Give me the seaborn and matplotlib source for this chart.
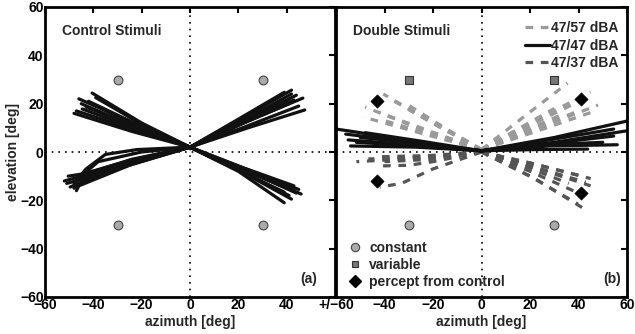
import numpy as np
import pandas as pd
import matplotlib
matplotlib.use("Agg")
import matplotlib.pyplot as plt
from matplotlib.lines import Line2D
import seaborn as sns

# ---------------- data (degrees) ----------------
ctrl_upper_left = [
    [(0, 2), (-22, 11.5), (-46, 22)],
    [(0, 2), (-20, 12), (-40.5, 24.4)],
    [(0, 2), (-24, 8.5), (-48, 16)],
    [(0, 2), (-22, 9.5), (-44.6, 17.8)],
    [(0, 2), (-21, 10), (-43, 18.6)],
    [(0, 2), (-21, 11), (-42, 21)],
    [(0, 2), (-20, 11.5), (-39, 22.5)],
    [(0, 2), (-23, 10.5), (-45, 20)],
    [(0, 2), (-21, 10.5), (-41, 20)],
    [(0, 2), (-24, 9.5), (-47, 17)],
]
ctrl_upper_right = [
    [(0, 2), (20, 13), (42, 25.6)],
    [(0, 2), (22, 12), (46.7, 22.3)],
    [(0, 2), (24, 10), (47.5, 17.4)],
    [(0, 2), (20, 12), (40.5, 21)],
    [(0, 2), (19, 13), (39, 24.7)],
    [(0, 2), (21, 11.5), (43, 21.5)],
    [(0, 2), (20, 11), (41, 20)],
    [(0, 2), (22, 12.5), (44, 23.5)],
    [(0, 2), (23, 10.5), (45, 19)],
    [(0, 2), (21, 12.5), (42, 24)],
]
ctrl_lower_left = [
    [(0, 2), (-25, -4), (-45, -10), (-52, -12)],
    [(0, 2), (-25, -5), (-45, -12.5), (-49.6, -14.5)],
    [(0, 2), (-25, -3.5), (-44, -9), (-50.4, -10)],
    [(0, 2), (-24, -5), (-44, -12), (-48, -15)],
    [(0, 2), (-25, -4.5), (-44, -11), (-51, -13)],
    [(0, 2), (-22, 1), (-35, -1), (-43, -7), (-48, -13)],
    [(0, 2), (-24, -3), (-43, -9), (-46, -11)],
    [(0, 2), (-25, -5.5), (-46, -14), (-47, -16)],
    [(0, 2), (-24, -4), (-45, -11), (-47, -12)],
    [(0, 2), (-20, 0), (-38, -4), (-45, -10)],
]
ctrl_lower_right = [
    [(0, 2), (20, -8), (39, -21)],
    [(0, 2), (24, -8), (46, -17.4)],
    [(0, 2), (22, -7.5), (43, -16)],
    [(0, 2), (20, -7.5), (39, -16.6)],
    [(0, 2), (22, -6.5), (43, -14)],
    [(0, 2), (21, -8), (41, -18)],
    [(0, 2), (23, -7), (45, -15.5)],
    [(0, 2), (21, -7), (42, -15)],
    [(0, 2), (22, -8.5), (42, -19.5)],
    [(0, 2), (23, -7.5), (44, -17)],
]

dbl_47_57 = [
    [(0, 1), (-20, 12), (-40.5, 24)],
    [(0, 1), (-24, 9), (-48, 18.6)],
    [(0, 1), (-24, 7.5), (-48.8, 14.5)],
    [(0, 1), (-18, 11), (-36, 21)],
    [(0, 1), (-16, 10.5), (-32, 20.6)],
    [(0, 1), (-21, 8.5), (-42.5, 16.5)],
    [(0, 1), (-20, 7), (-40, 13)],
    [(0, 1), (-15, 9), (-30, 17.5)],
    [(0, 1), (18, 15), (35.5, 28.5)],
    [(0, 1), (22, 13), (45, 24.8)],
    [(0, 1), (24, 10), (48, 19.4)],
    [(0, 1), (24, 9), (47, 17)],
    [(0, 1), (20, 11), (39.7, 20.7)],
    [(0, 1), (16, 8), (32, 15)],
    [(0, 1), (20, 9), (40, 17)],
    [(0, 1), (15, 9.5), (30, 18)],
]
dbl_47_47 = [
    [(0, 0.5), (-30, 4), (-50, 8), (-60, 9.5)],
    [(0, 0.5), (-28, 4), (-56, 7.4)],
    [(0, 0.5), (-26, 2.5), (-51.6, 4)],
    [(0, 0.5), (-28, 3), (-55, 5)],
    [(0, 0.5), (-25, 3.5), (-50, 6)],
    [(0, 0.5), (-27, 2), (-54, 2.5)],
    [(0, 0.5), (-25, 4.5), (-48, 8)],
    [(0, 0.5), (30, 6), (60, 12.8)],
    [(0, 0.5), (30, 4), (59.5, 8.7)],
    [(0, 0.5), (28, 3.5), (54.5, 6.6)],
    [(0, 0.5), (22, 1), (43.8, 1.2)],
    [(0, 0.5), (28, 5), (54.5, 9.5)],
    [(0, 0.5), (25, 3), (50, 4)],
    [(0, 0.5), (28, 2.5), (56, 3)],
]
dbl_47_37 = [
    [(0, 0), (-25, -2.5), (-51.6, -4)],
    [(0, 0), (-23, -2), (-46.7, -2.9)],
    [(0, 0), (-20, -4), (-30, -5.5), (-43, -5.8)],
    [(0, 0), (-20, -7), (-33, -13), (-42, -14.5)],
    [(0, 0), (-22, -1.5), (-44, -2)],
    [(0, 0), (-20, -3), (-40, -4)],
    [(0, 0), (22, -11), (43.8, -24.4)],
    [(0, 0), (22, -5), (45, -11)],
    [(0, 0), (20, -4.5), (41, -9.9)],
    [(0, 0), (20, -10), (39.7, -21.5)],
    [(0, 0), (22, -6.5), (45, -14)],
    [(0, 0), (21, -6), (43, -12.5)],
    [(0, 0), (20, -8), (40, -17)],
    [(0, 0), (18, -6), (36, -13)],
]

constant_x = [-30, 30, -30, 30]
constant_y = [30, 30, -30, -30]
dbl_constant_x = [-30, 30]
dbl_constant_y = [-30, -30]
variable_x = [-30, 30]
variable_y = [30, 30]
percept_x = [-43, 41, -43, 41]
percept_y = [21, 22, -12, -17]

left_xticklabels = ["\u221260", "\u221240", "\u221220", "0", "20", "40", ""]
right_xticklabels = ["+/\u221260", "\u221240", "\u221220", "0", "20", "40", "60"]
yticklabels = ["\u221260", "\u221240", "\u221220", "0", "20", "40", "60"]
legend_labels = ["47/57 dBA", "47/47 dBA", "47/37 dBA"]
marker_labels = ["constant", "variable", "percept from control"]


def to_frame(lines):
    rows = []
    for i, ln in enumerate(lines):
        for (x, y) in ln:
            rows.append({"x": x, "y": y, "line": i})
    return pd.DataFrame(rows)


# ---------------- style ----------------
sns.set_style("white")
plt.rcParams["font.family"] = ["Liberation Sans", "DejaVu Sans"]
plt.rcParams["font.weight"] = "bold"
FS = 10

fig = plt.figure(figsize=(6.35, 3.34), dpi=100)
W, H = 635, 334
axL = fig.add_axes([45 / W, 37 / H, 290 / W, 290 / H])
axR = fig.add_axes([336 / W, 37 / H, 291 / W, 290 / H])

LIGHT = "#9a9a9a"
DARK = "#555555"
LW = 2.3
DASH = (0, (2.4, 2.4))

# control panel
for grp in [ctrl_upper_left, ctrl_upper_right, ctrl_lower_left, ctrl_lower_right]:
    sns.lineplot(data=to_frame(grp), x="x", y="y", units="line", estimator=None,
                 sort=False, color="#111111", lw=LW, ax=axL, legend=False)
sns.scatterplot(x=constant_x, y=constant_y, ax=axL, s=40, color="#aaaaaa",
                edgecolor="#444444", linewidth=0.8, marker="o", zorder=5)

# double panel
sns.lineplot(data=to_frame(dbl_47_57), x="x", y="y", units="line", estimator=None,
             sort=False, color=LIGHT, lw=LW, linestyle=DASH, ax=axR, legend=False)
sns.lineplot(data=to_frame(dbl_47_37), x="x", y="y", units="line", estimator=None,
             sort=False, color=DARK, lw=LW, linestyle=DASH, ax=axR, legend=False)
sns.lineplot(data=to_frame(dbl_47_47), x="x", y="y", units="line", estimator=None,
             sort=False, color="#111111", lw=LW, ax=axR, legend=False)
sns.scatterplot(x=dbl_constant_x, y=dbl_constant_y, ax=axR, s=40, color="#aaaaaa",
                edgecolor="#444444", linewidth=0.8, marker="o", zorder=5)
sns.scatterplot(x=variable_x, y=variable_y, ax=axR, s=30, color="#777777",
                edgecolor="#333333", linewidth=0.8, marker="s", zorder=5)
sns.scatterplot(x=percept_x, y=percept_y, ax=axR, s=45, color="black",
                edgecolor="black", linewidth=0.5, marker="D", zorder=6)

for ax in (axL, axR):
    ax.set_xlim(-60, 60)
    ax.set_ylim(-60, 60)
    ax.axvline(0, color="black", lw=1.2, ls=(0, (1, 3)), zorder=0)
    ax.axhline(0, color="black", lw=1.2, ls=(0, (1, 3)), zorder=0)
    ax.set_xticks(np.arange(-60, 61, 20))
    ax.set_yticks(np.arange(-60, 61, 20))
    ax.tick_params(direction="in", length=4, width=1.5, top=True, right=True,
                   labelsize=FS, pad=1, colors="black")
    for s in ax.spines.values():
        s.set_linewidth(2)
        s.set_color("black")
    ax.set_xlabel("azimuth [deg]", fontsize=FS, fontweight="bold", labelpad=2)

axL.set_xticklabels(left_xticklabels, fontweight="bold")
axL.set_yticklabels(yticklabels, fontweight="bold")
axR.set_xticklabels(right_xticklabels, fontweight="bold")
axR.set_yticklabels([])
axL.set_ylabel("elevation [deg]", fontsize=FS, fontweight="bold", labelpad=0)
axR.set_ylabel("")

axL.text(-53, 50, "Control Stimuli", fontsize=FS, fontweight="bold", va="center")
axR.text(-53, 50, "Double Stimuli", fontsize=FS, fontweight="bold", va="center")
axL.text(52.5, -52.5, "(a)", fontsize=FS, fontweight="bold", ha="right", va="center")
axR.text(57.5, -52.5, "(b)", fontsize=FS, fontweight="bold", ha="right", va="center")

line_handles = [
    Line2D([], [], color=LIGHT, lw=LW, ls=DASH),
    Line2D([], [], color="#111111", lw=LW),
    Line2D([], [], color=DARK, lw=LW, ls=DASH),
]
leg1 = axR.legend(line_handles, legend_labels, loc="upper right",
                  bbox_to_anchor=(1.0, 0.98), frameon=False,
                  handlelength=1.8, handletextpad=0.1, labelspacing=0.25,
                  borderaxespad=0.2, prop={"weight": "bold", "size": FS})
axR.add_artist(leg1)
marker_handles = [
    Line2D([], [], ls="none", marker="o", ms=6, mfc="#aaaaaa", mec="#444444", mew=0.8),
    Line2D([], [], ls="none", marker="s", ms=5, mfc="#777777", mec="#333333", mew=0.8),
    Line2D([], [], ls="none", marker="D", ms=6, mfc="black", mec="black"),
]
axR.legend(marker_handles, marker_labels, loc="lower left", frameon=False,
           handlelength=1.5, handletextpad=0.3, labelspacing=0.2, borderaxespad=0.2,
           prop={"weight": "bold", "size": FS})

fig.savefig("out.png", dpi=100)
